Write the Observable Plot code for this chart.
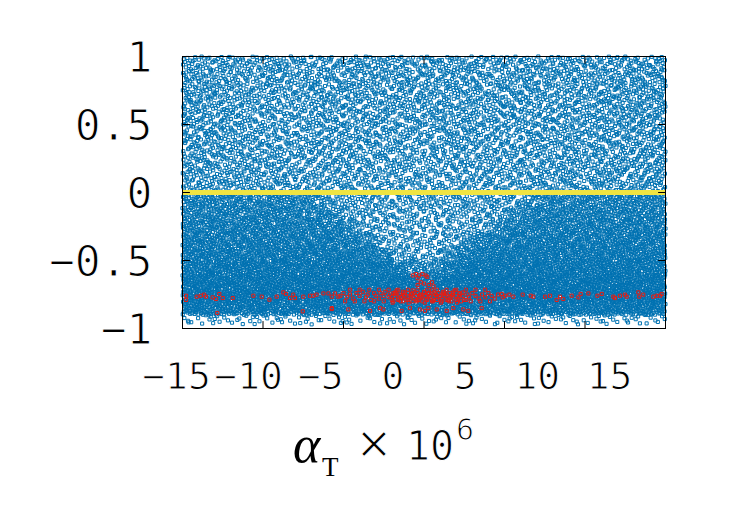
<!DOCTYPE html>
<html>
<head>
<meta charset="utf-8">
<script src="https://cdn.jsdelivr.net/npm/d3@7"></script>
<script src="https://cdn.jsdelivr.net/npm/@observablehq/plot@0.6"></script>
<style>
  body { margin: 0; background: #fff; }
  #wrap { position: relative; width: 750px; height: 525px; overflow: hidden; }
  #wrap svg { position: absolute; left: 0; top: 0; }
  g[aria-label$="tick label"] text, .thin { stroke: #fff; stroke-width: 1.1px; paint-order: normal; }
</style>
</head>
<body>
<div id="wrap"></div>
<script>
// ---------------- data ----------------
const xTicks = [-15, -10, -5, 0, 5, 10, 15];
const yTicks = [-1, -0.5, 0, 0.5, 1];

// blue cloud: number of markers per cell, cells 1 unit wide in x (from -15 to 15)
// and 0.1 high in y (rows from top 1.0 down to the bottom edge of the cloud)
const xEdges = [-15,-14,-13,-12,-11,-10,-9,-8,-7,-6,-5,-4,-3,-2,-1,0,1,2,3,4,5,6,7,8,9,10,11,12,13,14,15];
const yEdges = [1.0,0.9,0.8,0.7,0.6,0.5,0.4,0.3,0.2,0.1,0.0,-0.1,-0.2,-0.3,-0.4,-0.5,-0.6,-0.7,-0.8,-0.9,-0.97];
const blueCounts = [
  [16,16,15,15,15,16,15,14,15,15,15,16,15,15,14,15,15,16,15,15,14,15,16,15,15,16,15,16,17,17],
  [17,16,15,15,14,15,15,15,14,15,15,14,15,16,15,15,16,15,15,14,15,15,15,16,15,15,16,16,17,17],
  [17,17,15,15,15,14,14,15,15,15,16,15,14,15,15,16,15,14,15,15,15,16,15,15,15,16,16,17,17,18],
  [17,16,15,14,15,14,13,14,15,15,15,14,15,15,15,15,14,15,15,16,15,15,15,14,15,15,16,16,17,17],
  [17,16,15,15,14,13,13,14,15,15,14,15,15,14,14,15,15,15,14,15,15,15,15,15,15,16,16,17,17,17],
  [16,16,16,15,14,14,13,14,14,15,15,15,14,14,14,14,15,15,15,14,14,15,15,15,15,15,16,16,16,17],
  [16,16,15,15,15,14,14,14,15,15,15,14,14,14,13,14,14,15,15,14,14,14,15,15,15,15,15,16,16,17],
  [16,16,15,15,15,15,14,14,14,15,14,14,14,13,13,13,14,14,14,14,14,14,15,15,15,15,15,16,16,17],
  [16,16,15,15,15,15,15,14,14,14,14,14,13,13,13,13,13,14,14,14,14,14,15,15,15,15,16,16,16,17],
  [16,16,16,15,15,15,15,14,14,14,14,13,13,13,13,13,13,13,14,14,14,14,15,15,15,15,16,16,16,17],
  [26,26,26,26,26,26,25,24,20,16,14,14,14,13,14,14,13,14,14,14,15,19,24,26,26,26,26,26,26,26],
  [28,28,28,28,28,28,28,27,26,21,14,13,13,13,12,12,13,13,13,14,21,26,28,28,28,28,28,28,28,28],
  [30,30,30,30,30,30,30,30,29,28,21,13,12,12,12,12,12,12,13,21,28,30,30,30,30,30,30,30,30,30],
  [32,32,32,32,32,32,32,32,32,31,30,23,13,12,12,12,13,18,27,31,32,32,32,32,32,32,32,32,32,32],
  [34,34,34,34,34,34,34,34,34,34,33,32,25,14,13,13,20,29,33,34,34,34,34,34,34,34,34,34,34,34],
  [37,37,37,37,37,37,37,37,37,37,37,37,37,29,22,22,29,37,37,37,37,37,37,37,37,37,37,37,37,37],
  [40,40,40,40,40,40,40,40,40,40,40,40,40,40,35,35,40,40,40,40,40,40,40,40,40,40,40,40,40,40],
  [42,42,42,42,42,42,42,42,42,42,42,42,42,42,42,42,42,42,42,42,42,42,42,42,42,42,42,42,42,42],
  [38,38,38,38,38,38,38,38,38,38,38,38,38,38,38,38,38,38,38,38,38,38,38,38,38,38,38,38,38,38],
  [5,5,5,5,5,5,5,5,5,5,5,5,5,5,5,5,5,5,5,5,5,5,5,5,5,5,5,5,5,5]
];

// red markers, read one by one
const redPoints = [
  [-14.78,-0.759],[-14.78,-0.79],[-14.12,-0.766],[-13.87,-0.759],[-13.66,-0.751],[-13.54,-0.766],
  [-13.13,-0.771],[-12.92,-0.783],[-12.71,-0.746],[-12.5,-0.776],[-11.88,-0.776],[-12.84,-0.886],
  [-10.6,-0.759],[-10.08,-0.766],[-9.6,-0.788],[-9.15,-0.766],[-8.74,-0.734],[-8.57,-0.746],
  [-8.32,-0.776],[-8.12,-0.751],[-8.01,-0.776],[-7.5,-0.766],[-7.08,-0.759],[-6.87,-0.759],
  [-6.67,-0.751],[-6.25,-0.742],[-5.94,-0.742],[-5.73,-0.766],[-5.53,-0.742],[-5.32,-0.766],
  [-7.53,-0.874],[-5.73,-0.857],
  [-5.2,-0.76],[-5.0,-0.74],[-4.8,-0.77],[-4.6,-0.75],[-4.4,-0.78],[-4.2,-0.74],[-4.0,-0.76],
  [-3.8,-0.73],[-3.6,-0.77],[-3.5,-0.75],[-3.3,-0.79],[-3.1,-0.74],[-3.0,-0.76],[-2.8,-0.78],
  [-2.7,-0.74],[-2.5,-0.76],[-2.4,-0.73],[-2.2,-0.77],[-2.1,-0.75],[-2.0,-0.79],[-1.9,-0.74],
  [-1.8,-0.76],[-1.7,-0.72],[-1.6,-0.78],[-1.5,-0.75],[-1.4,-0.77],[-1.3,-0.73],[-1.2,-0.76],
  [-1.1,-0.79],[-1.0,-0.74],[-0.9,-0.77],[-0.8,-0.75],[-0.7,-0.72],[-0.6,-0.78],[-0.5,-0.76],
  [-0.4,-0.74],[-0.3,-0.79],[-0.2,-0.75],[-0.1,-0.77],[0.0,-0.73],[0.1,-0.76],[0.2,-0.78],
  [0.3,-0.74],[0.4,-0.76],[0.5,-0.72],[0.6,-0.79],[0.7,-0.75],[0.8,-0.77],[0.9,-0.74],
  [1.0,-0.76],[1.1,-0.78],[1.2,-0.73],[1.3,-0.76],[1.4,-0.75],[1.5,-0.79],[1.6,-0.74],
  [1.7,-0.77],[1.8,-0.75],[1.9,-0.72],[2.0,-0.76],[2.1,-0.78],[2.2,-0.74],[2.4,-0.76],
  [2.5,-0.79],[2.7,-0.75],[2.8,-0.77],[3.0,-0.74],[3.2,-0.76],[3.4,-0.78],[3.6,-0.75],
  [3.8,-0.77],[4.0,-0.74],[4.2,-0.76],[4.4,-0.78],[4.6,-0.75],
  [-1.95,-0.81],[-1.45,-0.80],[-0.95,-0.81],[-0.45,-0.80],[0.05,-0.81],[0.55,-0.80],
  [1.05,-0.81],[1.55,-0.80],[2.05,-0.81],[-1.75,-0.745],[-1.25,-0.755],[-0.75,-0.745],
  [-0.25,-0.755],[0.25,-0.745],[0.75,-0.755],[1.25,-0.745],[1.75,-0.755],[2.25,-0.745],
  [-4.9,-0.80],[-4.6,-0.715],[-4.3,-0.80],[-4.0,-0.715],[-3.7,-0.80],[-3.4,-0.715],[-3.1,-0.80],
  [-2.8,-0.715],[-2.5,-0.80],[-2.2,-0.715],[-1.9,-0.80],[-1.6,-0.715],[-1.3,-0.80],[-1.0,-0.715],
  [-0.7,-0.80],[-0.4,-0.715],[-0.1,-0.80],[0.2,-0.715],[0.5,-0.80],[0.8,-0.715],[1.1,-0.80],
  [1.4,-0.715],[1.7,-0.80],[2.0,-0.715],[2.3,-0.80],[2.6,-0.715],[2.9,-0.80],[3.2,-0.715],
  [3.5,-0.80],[3.8,-0.715],[4.1,-0.80],
  [-2.0,-0.765],[-1.8,-0.735],[-1.6,-0.79],[-1.4,-0.765],[-1.2,-0.735],[-1.0,-0.79],[-0.8,-0.765],
  [-0.6,-0.735],[-0.4,-0.79],[-0.2,-0.765],[0.0,-0.735],[0.2,-0.79],[0.4,-0.765],[0.6,-0.735],
  [0.8,-0.79],[1.0,-0.765],[1.2,-0.735],[1.4,-0.79],[1.6,-0.765],[1.8,-0.735],[2.0,-0.79],
  [2.2,-0.765],[2.4,-0.735],[2.6,-0.79],
  [-0.7,-0.61],[-0.5,-0.60],[-0.3,-0.61],[-0.1,-0.60],[0.1,-0.61],[-0.4,-0.63],[0.2,-0.62],
  [-0.2,-0.66],[0.0,-0.67],[0.3,-0.68],[0.5,-0.66],[-0.4,-0.68],[0.6,-0.69],
  [-5.73,-0.85],[-4.7,-0.86],[-3.35,-0.87],[-2.73,-0.85],[-2.53,-0.86],[-1.39,-0.87],
  [-0.87,-0.85],[-0.25,-0.86],[0.06,-0.87],[0.27,-0.85],[0.79,-0.86],[1.41,-0.87],
  [1.82,-0.85],[2.44,-0.86],[2.75,-0.87],[3.58,-0.85],
  [4.83,-0.746],[4.89,-0.771],[5.03,-0.759],[5.3,-0.751],[5.55,-0.766],[6.13,-0.751],
  [6.63,-0.759],[6.79,-0.766],[7.52,-0.766],[7.83,-0.759],[8.24,-0.79],[8.45,-0.766],
  [8.65,-0.783],[9.17,-0.759],[9.59,-0.771],[9.73,-0.746],[10.21,-0.742],[10.77,-0.759],
  [11.04,-0.746],[11.76,-0.766],[11.86,-0.776],[12.17,-0.759],[12.48,-0.751],[12.59,-0.766],
  [13.31,-0.734],[13.37,-0.766],[13.62,-0.751],[14.24,-0.766],[14.45,-0.759],[14.66,-0.759],
  [14.76,-0.746]
];

const BLUE = "#0072b2", RED = "#e41e14", YELLOW = "#f0e442";

// spread each cell's markers inside its cell (deterministic leaped Halton layout)
function halton(i, b) { let f = 1, r = 0; while (i > 0) { f /= b; r += f * (i % b); i = Math.floor(i / b); } return r; }
const blue = [];
let n = 1;
blueCounts.forEach((row, r) => row.forEach((count, c) => {
  for (let k = 0; k < count; k++, n++) {
    const m = n * 409;
    blue.push({
      x: xEdges[c] + halton(m, 2) * (xEdges[c + 1] - xEdges[c]),
      y: yEdges[r + 1] + halton(m, 3) * (yEdges[r] - yEdges[r + 1])
    });
  }
}));
const red = redPoints.map(([x, y]) => ({x, y}));

const tickShape = {draw(ctx, l) { ctx.moveTo(0, 0); ctx.lineTo(0, -l); }};
const tickOpts = {length: 7, anchor: "start", shape: tickShape, stroke: "black", strokeWidth: 1};
const MARKER_R = 1.75;

const main = Plot.plot({
  width: 750, height: 525,
  marginLeft: 182, marginRight: 85, marginTop: 56, marginBottom: 197,
  x: {domain: [-15, 15], axis: null},
  y: {domain: [-1, 1]},
  style: {fontFamily: "'DejaVu Sans Mono', monospace", fontSize: "42px", color: "black", background: "white", overflow: "visible"},
  marks: [
    Plot.dot(blue, {x: "x", y: "y", symbol: "square", r: MARKER_R, stroke: BLUE, strokeWidth: 1, fill: "none"}),
    Plot.dot(red, {x: "x", y: "y", symbol: "square", r: MARKER_R, stroke: RED, strokeWidth: 1, fill: "none"}),
    Plot.ruleY([0], {stroke: YELLOW, strokeWidth: 5}),
    Plot.frame({stroke: "black", strokeWidth: 1}),
    Plot.vector(xTicks, {x: d => d, frameAnchor: "bottom", rotate: 0, ...tickOpts}),
    Plot.vector(xTicks, {x: d => d, frameAnchor: "top", rotate: 180, ...tickOpts}),
    Plot.vector(yTicks, {y: d => d, frameAnchor: "left", rotate: 90, ...tickOpts}),
    Plot.vector(yTicks, {y: d => d, frameAnchor: "right", rotate: -90, ...tickOpts}),
    Plot.axisY(yTicks, {anchor: "left", tickSize: 0, tickPadding: 30, dy: 2, fontSize: 43,
      label: null, tickFormat: d3.format("")})
  ]
});

// x tick labels (the reference sets them slightly tighter than the ticks)
const xlabels = Plot.plot({
  width: 750, height: 525,
  marginLeft: 176, marginRight: 141, marginTop: 56, marginBottom: 197,
  x: {domain: [-15, 15]},
  y: {axis: null},
  style: {fontFamily: "'DejaVu Sans Mono', monospace", fontSize: "38px", color: "black", background: "transparent", overflow: "visible"},
  marks: [Plot.axisX(xTicks, {anchor: "bottom", tickSize: 0, tickPadding: 34, fontSize: 38,
    label: null, tickFormat: d3.format("")})]
});

const wrap = document.getElementById("wrap");
wrap.appendChild(main);
wrap.appendChild(xlabels);

// axis title: alpha_T x 10^6
const t = d3.select(wrap).append("svg").attr("width", 750).attr("height", 525);
t.append("text").attr("x", 293).attr("y", 462).attr("font-family", "'Liberation Serif', serif")
  .attr("font-style", "italic").attr("font-size", 52).text("α");
t.append("text").attr("x", 322).attr("y", 476).attr("font-family", "'Liberation Serif', serif")
  .attr("font-size", 27).text("T");
t.append("text").attr("x", 374).attr("y", 458).attr("text-anchor", "middle").attr("font-family", "'DejaVu Sans', sans-serif")
  .attr("font-size", 44).attr("class", "thin").text("×");
t.append("text").attr("x", 406).attr("y", 460).attr("font-family", "'DejaVu Sans Mono', monospace")
  .attr("font-size", 40).attr("class", "thin").text("10");
t.append("text").attr("x", 456).attr("y", 440).attr("font-family", "'DejaVu Sans Mono', monospace")
  .attr("font-size", 30).attr("class", "thin").text("6");
</script>
</body>
</html>
